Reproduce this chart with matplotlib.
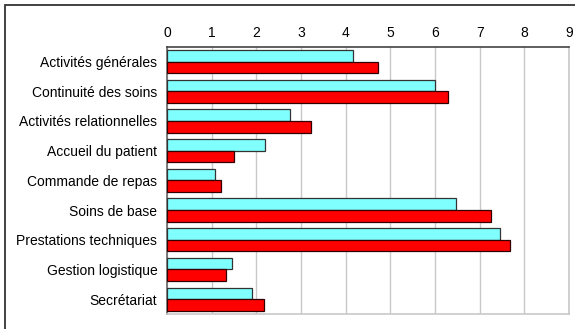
import numpy as np
import matplotlib
matplotlib.use("Agg")
import matplotlib.pyplot as plt
from matplotlib.patches import Rectangle

plt.rcParams["font.family"] = ["Liberation Sans", "DejaVu Sans"]

categories = [
    "Activités générales",
    "Continuité des soins",
    "Activités relationnelles",
    "Accueil du patient",
    "Commande de repas",
    "Soins de base",
    "Prestations techniques",
    "Gestion logistique",
    "Secrétariat",
]
series_cyan = [4.16, 5.99, 2.76, 2.2, 1.08, 6.48, 7.46, 1.46, 1.9]
series_red = [4.72, 6.29, 3.22, 1.5, 1.2, 7.26, 7.68, 1.32, 2.17]
x_ticks = list(range(0, 10))

fig = plt.figure(figsize=(5.75, 3.29), dpi=100)
ax = fig.add_axes([167 / 575, 1 - 314 / 329, 402 / 575, 267.3 / 329])

y = np.arange(len(categories))
h = 0.39
ax.barh(y - h / 2, series_cyan, height=h, color="#80FFFF",
        edgecolor="#333333", linewidth=0.9, zorder=3)
ax.barh(y + h / 2, series_red, height=h, color="#FF0000",
        edgecolor="#330000", linewidth=0.9, zorder=3)

ax.set_xlim(0, 9)
ax.set_ylim(len(categories) - 0.5, -0.5)
ax.set_xticks(x_ticks)
ax.set_yticks(y)
ax.set_yticklabels(categories)
ax.xaxis.tick_top()
ax.tick_params(axis="x", length=0, pad=4.5, labelsize=10)
ax.tick_params(axis="y", length=0, pad=7, labelsize=10)
ax.grid(axis="x", color="#c8c8c8", linewidth=1, zorder=0)

ax.spines["top"].set_color("#444444")
ax.spines["left"].set_color("#666666")
ax.spines["right"].set_color("#c8c8c8")
ax.spines["bottom"].set_color("#c8c8c8")
for s in ax.spines.values():
    s.set_linewidth(1.2)

# outer frame, cut off at the right and bottom like the original
frame = Rectangle((5 / 575, -0.1), 1.2, 1.1 - 5 / 329, transform=fig.transFigure,
                  fill=False, edgecolor="#333333", linewidth=1.3)
fig.add_artist(frame)

plt.savefig("out.png", dpi=100)
plt.close()
